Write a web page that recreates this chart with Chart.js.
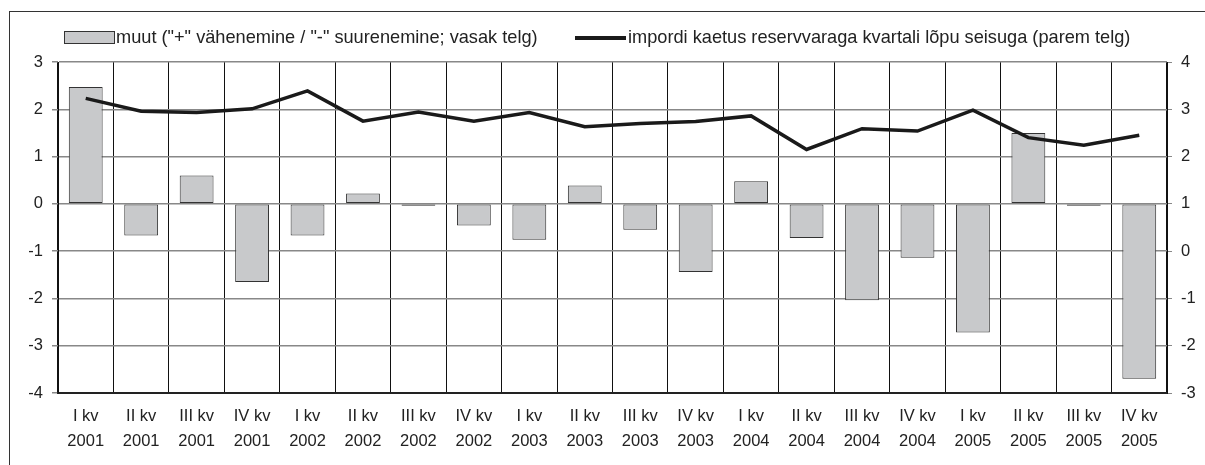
<!DOCTYPE html>
<html>
<head>
<meta charset="utf-8">
<script src="https://cdn.jsdelivr.net/npm/chart.js@4.4.1/dist/chart.umd.min.js"></script>
<style>
  body { margin: 0; background: #fff; font-family: "Liberation Sans", Arial, sans-serif; }
  #wrap { position: relative; width: 1205px; height: 465px; overflow: hidden; }
  #frame { position: absolute; left: 9px; top: 11px; width: 1300px; height: 600px;
           border-top: 1.5px solid #333; border-left: 1.5px solid #333; }
  canvas { position: absolute; left: 0; top: 0; }
  .leg { position: absolute; top: 27px; font-size: 18.2px; color: #222; white-space: nowrap; line-height: 20px; }
  .box { position: absolute; left: 64px; top: 31px; width: 49px; height: 11px; background: #c8c9cb; border: 1px solid #333; }
  .ln { position: absolute; left: 575px; top: 36px; width: 51px; height: 3.5px; background: #1a1a1a; }
</style>
</head>
<body>
<div id="wrap">
  <div id="frame"></div>
  <canvas id="myChart" width="1205" height="465"></canvas>
  <div class="box"></div>
  <div class="leg" style="left:116px">muut ("+" vähenemine / "-" suurenemine; vasak telg)</div>
  <div class="ln"></div>
  <div class="leg" style="left:628px">impordi kaetus reservvaraga kvartali lõpu seisuga (parem telg)</div>
</div>
<script>
const ctx = document.getElementById("myChart").getContext("2d");

const quarters = ["I kv", "II kv", "III kv", "IV kv"];
const years = ["2001", "2002", "2003", "2004", "2005"];

// muut, vasak telg
const muut = [2.47, -0.67, 0.6, -1.65, -0.67, 0.22, -0.04, -0.46, -0.76, 0.39,
              -0.55, -1.44, 0.48, -0.72, -2.04, -1.14, -2.72, 1.5, -0.04, -3.7];

// impordi kaetus, parem telg
const kaetus = [3.23, 2.96, 2.93, 3.01, 3.39, 2.75, 2.94, 2.75, 2.93, 2.63,
                2.70, 2.74, 2.86, 2.15, 2.59, 2.54, 2.98, 2.40, 2.24, 2.45];

const labels = [];
years.forEach(y => quarters.forEach(q => labels.push([q, y])));

const tickFont = { family: "'Liberation Sans', Arial, sans-serif", size: 16.5, lineHeight: 1.52 };

const data = {
    labels: labels,
    datasets: [
        {
            type: 'line',
            label: 'impordi kaetus reservvaraga kvartali lõpu seisuga (parem telg)',
            data: kaetus,
            yAxisID: 'y1',
            borderColor: '#1a1a1a',
            borderWidth: 3.5,
            pointRadius: 0,
            tension: 0,
            order: 0,
        },
        {
            type: 'bar',
            label: 'muut ("+" vähenemine / "-" suurenemine; vasak telg)',
            data: muut,
            yAxisID: 'y',
            backgroundColor: '#c8c9cb',
            borderColor: '#333',
            borderWidth: 1,
            borderSkipped: false,
            categoryPercentage: 1,
            barPercentage: 0.61,
            order: 1,
        },
    ],
};

const config = {
    type: 'bar',
    data: data,
    options: {
        responsive: false,
        animation: false,
        layout: { padding: { top: 62, left: 0, right: 0, bottom: 0 } },
        plugins: {
            legend: { display: false },
            tooltip: { enabled: false },
        },
        scales: {
            x: {
                grid: { color: '#111', lineWidth: 1, drawTicks: false, offset: true },
                border: { color: '#222', width: 2 },
                ticks: { color: '#222', font: tickFont, padding: 11, maxRotation: 0, autoSkip: false },
                afterFit: (scale) => { scale.height = 72; },
            },
            y: {
                position: 'left',
                min: -4,
                max: 3,
                ticks: { stepSize: 1, color: '#222', font: tickFont, padding: 9 },
                grid: { color: '#888', lineWidth: 1.5, tickLength: 6 },
                border: { color: '#111', width: 1 },
                afterFit: (scale) => { scale.width = 58; },
            },
            y1: {
                position: 'right',
                min: -3,
                max: 4,
                ticks: { stepSize: 1, color: '#222', font: tickFont, padding: 9 },
                grid: { drawOnChartArea: false, color: '#888', tickLength: 5 },
                border: { color: '#111', width: 1 },
                afterFit: (scale) => { scale.width = 38; },
            },
        },
    },
};

const myChart = new Chart(ctx, config);
</script>
</body>
</html>
